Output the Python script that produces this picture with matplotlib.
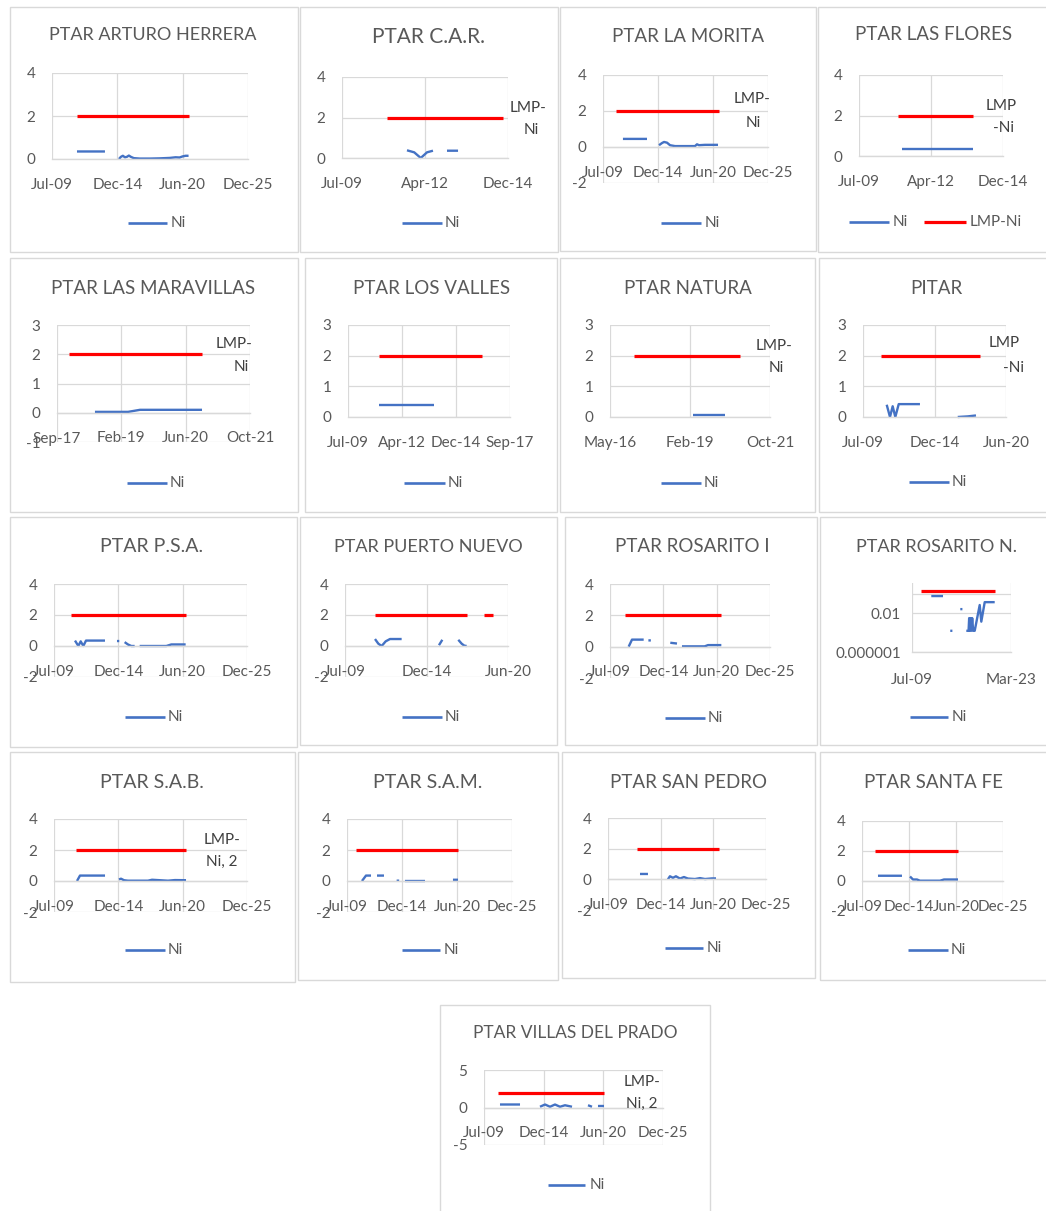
import numpy as np
import matplotlib
matplotlib.use("Agg")
import matplotlib.pyplot as plt
import matplotlib.dates as mdates
from matplotlib.lines import Line2D
from matplotlib.patches import Rectangle
from matplotlib.ticker import NullLocator

plt.rcParams["font.family"] = ["Lato", "DejaVu Sans"]

nan = np.nan
W, H = 1046, 1211
TXT = "#595959"
LBL = "#404040"
GRID = "#d9d9d9"
BLUE = "#4472C4"
RED = "#FF0000"

# ---------------- axis ticks (date axes) ----------------
ticks_6y = ["2009-07-06", "2014-12-27", "2020-06-18", "2025-12-09"]
ticks_car = ["2009-07-06", "2012-04-01", "2014-12-27"]
ticks_maravillas = ["2017-09-22", "2019-02-04", "2020-06-18", "2021-10-31"]
ticks_valles = ["2009-07-06", "2012-04-01", "2014-12-27", "2017-09-22"]
ticks_natura = ["2016-05-10", "2019-02-04", "2021-10-31"]
ticks_4y = ["2009-07-06", "2014-12-27", "2020-06-18"]
ticks_rosN = ["2009-07-06", "2023-03-15"]

# ---------------- Ni series and LMP-Ni limit per plant ----------------
arturo_dates = ["2011-08-10", "2013-12-13", "2014-07-01", "2015-02-15", "2015-04-15", "2015-06-15",
                "2015-08-15", "2015-10-15", "2015-12-15", "2016-02-15", "2016-05-15", "2016-11-15",
                "2017-09-15", "2018-07-15", "2019-05-15", "2019-11-15", "2020-03-15", "2020-06-15",
                "2020-09-15", "2020-12-15"]
arturo_ni = [0.35, 0.35, nan, 0.0, 0.10, 0.15, 0.08, 0.10, 0.16, 0.10, 0.04, 0.02,
             0.02, 0.03, 0.05, 0.08, 0.07, 0.12, 0.15, 0.15]
arturo_lmp_dates = ["2011-08-10", "2020-12-29"]
arturo_lmp = [2, 2]

car_dates = ["2011-08-28", "2011-11-23", "2012-02-10", "2012-04-25", "2012-07-06", "2012-10-01",
             "2012-12-22", "2013-05-04"]
car_ni = [0.38, 0.28, 0.0, 0.28, 0.36, nan, 0.36, 0.36]
car_lmp_dates = ["2010-12-30", "2014-10-28"]
car_lmp = [2, 2]

morita_dates = ["2011-07-01", "2013-11-22", "2014-06-01", "2015-02-02", "2015-05-22", "2015-08-03",
                "2015-11-20", "2016-03-08", "2016-09-06", "2018-09-02", "2018-11-14", "2019-01-25",
                "2019-09-01", "2020-12-17"]
morita_ni = [0.45, 0.45, nan, 0.10, 0.22, 0.28, 0.24, 0.10, 0.05, 0.05, 0.15, 0.10, 0.12, 0.12]
morita_lmp_dates = ["2010-10-22", "2021-01-22"]
morita_lmp = [2, 2]

flores_dates = ["2011-02-23", "2013-11-04"]
flores_ni = [0.35, 0.35]
flores_lmp_dates = ["2010-12-29", "2013-11-04"]
flores_lmp = [2, 2]

maravillas_dates = ["2018-07-14", "2019-03-28", "2019-06-29", "2020-10-23"]
maravillas_ni = [0.03, 0.03, 0.10, 0.10]
maravillas_lmp_dates = ["2017-12-24", "2020-10-23"]
maravillas_lmp = [2, 2]

valles_dates = ["2011-01-31", "2013-11-15"]
valles_ni = [0.4, 0.4]
valles_lmp_dates = ["2011-01-31", "2016-04-21"]
valles_lmp = [2, 2]

natura_dates = ["2019-03-13", "2020-04-16"]
natura_ni = [0.07, 0.07]
natura_lmp_dates = ["2017-03-06", "2020-10-21"]
natura_lmp = [2, 2]

pitar_dates = ["2011-04-30", "2011-07-31", "2011-10-14", "2011-12-27", "2012-03-31", "2013-11-15",
               "2015-01-01", "2016-10-07", "2017-07-13", "2018-03-01"]
pitar_ni = [0.40, 0.0, 0.35, 0.0, 0.42, 0.42, nan, 0.0, 0.02, 0.05]
pitar_lmp_dates = ["2010-11-21", "2018-06-22"]
pitar_lmp = [2, 2]

psa_dates = ["2011-04-20", "2011-08-02", "2011-10-14", "2012-01-04", "2012-03-27", "2013-11-07",
             "2014-06-01", "2014-11-15", "2015-01-25", "2015-04-01", "2015-07-11", "2015-10-22",
             "2016-02-03", "2016-05-17", "2016-08-01", "2016-10-20", "2019-01-27", "2019-07-02",
             "2020-09-19"]
psa_ni = [0.35, 0.0, 0.30, 0.0, 0.35, 0.35, nan, 0.32, 0.32, nan, 0.25, 0.10, 0.0, 0.0, nan,
          0.0, 0.0, 0.10, 0.10]
psa_lmp_dates = ["2010-12-16", "2020-09-30"]
psa_lmp = [2, 2]

pn_dates = ["2011-07-12", "2011-10-02", "2011-12-23", "2012-03-30", "2012-07-14", "2013-04-26",
            "2014-06-01", "2015-10-29", "2016-01-19", "2016-06-01", "2017-02-14", "2017-05-08",
            "2017-07-12", "2017-09-07"]
pn_ni = [0.45, 0.15, 0.0, 0.30, 0.45, 0.45, nan, 0.05, 0.40, nan, 0.40, 0.15, 0.02, 0.0]
pn_lmp_dates = ["2011-07-12", "2017-09-16", "2018-03-01", "2018-11-06", "2019-06-14"]
pn_lmp = [2, 2, nan, 2, 2]

ros1_dates = ["2011-06-06", "2011-10-09", "2012-12-20", "2013-04-01", "2013-06-15", "2013-09-15",
              "2014-06-01", "2015-09-14", "2016-05-22", "2016-08-01", "2016-11-25", "2019-03-26",
              "2019-07-29", "2020-12-10"]
ros1_ni = [0.0, 0.45, 0.45, nan, 0.40, 0.40, nan, 0.25, 0.20, nan, 0.02, 0.02, 0.10, 0.10]
ros1_lmp_dates = ["2011-01-18", "2020-11-24"]
ros1_lmp = [2, 2]

rosN_dates = ["2012-03-06", "2013-10-19", "2014-05-01", "2014-10-20", "2015-02-05", "2015-08-01",
              "2016-03-10", "2016-06-25", "2016-09-01", "2017-01-08", "2017-05-02", "2017-06-01",
              "2017-07-01", "2017-08-20", "2017-09-22", "2017-11-01", "2017-12-21", "2018-03-08",
              "2018-11-15", "2019-02-04", "2019-07-26", "2020-12-12"]
rosN_ni = [0.55, 0.55, nan, 1.5e-4, 1.5e-4, nan, 0.025, 0.025, nan, 1.5e-4, 1.5e-4, 3e-3,
           1.5e-4, 3e-3, 1.5e-4, 3e-3, 1.5e-4, 1.5e-4, 0.066, 1.3e-3, 0.13, 0.13]
rosN_lmp_dates = ["2010-09-18", "2020-12-12"]
rosN_lmp = [2, 2]

sab_dates = ["2011-06-21", "2011-09-22", "2013-11-08", "2014-06-01", "2015-01-17", "2015-03-20",
             "2015-06-21", "2015-10-22", "2017-07-06", "2017-11-08", "2018-07-15", "2019-03-20",
             "2019-10-23", "2020-09-30"]
sab_ni = [0.0, 0.35, 0.35, nan, 0.10, 0.15, 0.05, 0.02, 0.02, 0.08, 0.05, 0.02, 0.06, 0.05]
sab_lmp_dates = ["2011-05-21", "2020-09-30"]
sab_lmp = [2, 2]

sam_dates = ["2011-01-01", "2011-05-28", "2011-11-26", "2012-03-01", "2012-07-01", "2013-03-12",
             "2013-09-01", "2014-06-15", "2014-09-15", "2014-12-01", "2015-04-14", "2017-04-11",
             "2018-06-01", "2020-01-23", "2020-07-24"]
sam_ni = [0.0, 0.35, 0.35, nan, 0.35, 0.35, nan, 0.02, 0.02, nan, 0.0, 0.0, nan, 0.08, 0.08]
sam_lmp_dates = ["2010-05-28", "2020-07-24"]
sam_lmp = [2, 2]

sp_dates = ["2012-11-02", "2013-09-01", "2014-09-01", "2015-09-29", "2015-12-14", "2016-04-06",
            "2016-07-29", "2016-12-28", "2017-05-29", "2017-10-28", "2018-07-22", "2019-01-28",
            "2019-08-06", "2020-04-28", "2020-09-27"]
sp_ni = [0.35, 0.35, nan, 0.0, 0.20, 0.10, 0.20, 0.05, 0.15, 0.05, 0.02, 0.08, 0.02, 0.06, 0.06]
sp_lmp_dates = ["2012-07-11", "2021-01-19"]
sp_lmp = [2, 2]

sf_dates = ["2011-05-17", "2014-03-03", "2014-09-01", "2015-02-08", "2015-06-15", "2015-12-01",
            "2016-04-07", "2018-08-07", "2019-01-24", "2020-09-11"]
sf_ni = [0.35, 0.35, nan, 0.30, 0.10, 0.10, 0.02, 0.02, 0.10, 0.10]
sf_lmp_dates = ["2011-01-09", "2020-09-11"]
sf_lmp = [2, 2]

vp_dates = ["2010-12-24", "2012-10-25", "2013-09-01", "2014-08-26", "2015-02-11", "2015-07-28",
            "2016-01-11", "2016-06-27", "2016-12-11", "2017-08-03", "2018-06-01", "2019-01-21",
            "2019-06-04", "2019-09-01", "2019-12-22", "2020-07-10"]
vp_ni = [0.4, 0.4, nan, 0.1, 0.4, 0.1, 0.4, 0.1, 0.3, 0.1, nan, 0.3, 0.1, nan, 0.2, 0.2]
vp_lmp_dates = ["2010-10-18", "2020-07-10"]
vp_lmp = [2, 2]

# ---------------- layout (pixel coordinates) ----------------
PANELS = [
    dict(title="PTAR ARTURO HERRERA", box=(10, 7, 298, 252), tpos=(153, 35), tsize=13,
         rect=(52, 73, 248, 159), xt=ticks_6y, ylim=(0, 4), yt=[0, 2, 4],
         ni=(arturo_dates, arturo_ni), lmp=(arturo_lmp_dates, arturo_lmp),
         leg=(128, 167, 223, 171), lbl=None),
    dict(title="PTAR C.A.R.", box=(300, 7, 558, 252), tpos=(428, 37), tsize=15,
         rect=(342, 77, 508, 158), xt=ticks_car, ylim=(0, 4), yt=[0, 2, 4],
         ni=(car_dates, car_ni), lmp=(car_lmp_dates, car_lmp),
         leg=(402, 442, 223, 445), lbl=[("LMP-", 528, 108), ("Ni", 531, 130)]),
    dict(title="PTAR LA MORITA", box=(560, 7, 816, 251), tpos=(688, 37), tsize=13.5,
         rect=(603, 75, 768, 183), xt=ticks_6y, ylim=(-2, 4), yt=[-2, 0, 2, 4],
         ni=(morita_dates, morita_ni), lmp=(morita_lmp_dates, morita_lmp),
         leg=(661, 701, 223, 705), lbl=[("LMP-", 752, 99), ("Ni", 753, 123)]),
    dict(title="PTAR LAS FLORES", box=(818, 7, 1050, 252), tpos=(934, 35), tsize=13.5,
         rect=(859, 75, 1003, 156), xt=ticks_car, ylim=(0, 4), yt=[0, 2, 4],
         ni=(flores_dates, flores_ni), lmp=(flores_lmp_dates, flores_lmp),
         leg=(849, 889, 222, 893), leg2=(924, 966, 222, 970),
         lbl=[("LMP", 1001, 106), ("-Ni", 1004, 128)]),
    dict(title="PTAR LAS MARAVILLAS", box=(10, 258, 298, 512), tpos=(153, 288), tsize=13.5,
         rect=(57, 325, 250, 442), xt=ticks_maravillas, ylim=(-1, 3), yt=[-1, 0, 1, 2, 3],
         ni=(maravillas_dates, maravillas_ni), lmp=(maravillas_lmp_dates, maravillas_lmp),
         leg=(127, 167, 483, 170), lbl=[("LMP-", 234, 344), ("Ni", 241, 367)]),
    dict(title="PTAR LOS VALLES", box=(305, 258, 557, 512), tpos=(432, 288), tsize=13.5,
         rect=(348, 325, 510, 417), xt=ticks_valles, ylim=(0, 3), yt=[0, 1, 2, 3],
         ni=(valles_dates, valles_ni), lmp=(valles_lmp_dates, valles_lmp),
         leg=(404, 445, 483, 448), lbl=None),
    dict(title="PTAR NATURA", box=(560, 258, 815, 512), tpos=(688, 288), tsize=13.5,
         rect=(610, 325, 770, 417), xt=ticks_natura, ylim=(0, 3), yt=[0, 1, 2, 3],
         ni=(natura_dates, natura_ni), lmp=(natura_lmp_dates, natura_lmp),
         leg=(661, 701, 483, 704), lbl=[("LMP-", 774, 346), ("Ni", 776, 368)]),
    dict(title="PITAR", box=(819, 258, 1050, 512), tpos=(936, 288), tsize=13.5,
         rect=(863, 325, 1006, 417), xt=ticks_4y, ylim=(0, 3), yt=[0, 1, 2, 3],
         ni=(pitar_dates, pitar_ni), lmp=(pitar_lmp_dates, pitar_lmp),
         leg=(909, 949, 482, 952), lbl=[("LMP", 1004, 343), ("-Ni", 1014, 368)]),
    dict(title="PTAR P.S.A.", box=(10, 517, 297, 747), tpos=(152, 547), tsize=14,
         rect=(54, 584, 247, 677), xt=ticks_6y, ylim=(-2, 4), yt=[-2, 0, 2, 4],
         ni=(psa_dates, psa_ni), lmp=(psa_lmp_dates, psa_lmp),
         leg=(125, 165, 717, 168), lbl=None),
    dict(title="PTAR PUERTO NUEVO", box=(300, 517, 557, 745), tpos=(428, 547), tsize=13,
         rect=(345, 584, 508, 677), xt=ticks_4y, ylim=(-2, 4), yt=[-2, 0, 2, 4],
         ni=(pn_dates, pn_ni), lmp=(pn_lmp_dates, pn_lmp),
         leg=(402, 442, 717, 445), lbl=None),
    dict(title="PTAR ROSARITO I", box=(565, 517, 817, 745), tpos=(692, 547), tsize=13.5,
         rect=(610, 584, 770, 678), xt=ticks_6y, ylim=(-2, 4), yt=[-2, 0, 2, 4],
         ni=(ros1_dates, ros1_ni), lmp=(ros1_lmp_dates, ros1_lmp),
         leg=(665, 705, 718, 708), lbl=None),
    dict(title="PTAR ROSARITO N.", box=(820, 517, 1050, 745), tpos=(936, 547), tsize=13,
         rect=(912, 583, 1011, 652), xt=ticks_rosN, ylim=(1e-6, 12), yt=[1e-6, 1e-2, 1],
         ytl=["0.000001", "0.01", ""], log=True,
         ni=(rosN_dates, rosN_ni), lmp=(rosN_lmp_dates, rosN_lmp),
         leg=(910, 948, 717, 952), lbl=None),
    dict(title="PTAR S.A.B.", box=(10, 752, 295, 982), tpos=(152, 783), tsize=14,
         rect=(54, 819, 247, 912), xt=ticks_6y, ylim=(-2, 4), yt=[-2, 0, 2, 4],
         ni=(sab_dates, sab_ni), lmp=(sab_lmp_dates, sab_lmp),
         leg=(125, 165, 950, 168), lbl=[("LMP-", 222, 840), ("Ni, 2", 222, 862)]),
    dict(title="PTAR S.A.M.", box=(298, 752, 558, 980), tpos=(428, 783), tsize=14,
         rect=(347, 819, 512, 912), xt=ticks_6y, ylim=(-2, 4), yt=[-2, 0, 2, 4],
         ni=(sam_dates, sam_ni), lmp=(sam_lmp_dates, sam_lmp),
         leg=(402, 440, 950, 444), lbl=None),
    dict(title="PTAR SAN PEDRO", box=(562, 752, 815, 978), tpos=(688, 783), tsize=13.5,
         rect=(608, 818, 766, 910), xt=ticks_6y, ylim=(-2, 4), yt=[-2, 0, 2, 4],
         ni=(sp_dates, sp_ni), lmp=(sp_lmp_dates, sp_lmp),
         leg=(665, 703, 948, 707), lbl=None),
    dict(title="PTAR SANTA FE", box=(820, 752, 1050, 980), tpos=(934, 783), tsize=13.5,
         rect=(862, 821, 1003, 911), xt=ticks_6y, ylim=(-2, 4), yt=[-2, 0, 2, 4],
         ni=(sf_dates, sf_ni), lmp=(sf_lmp_dates, sf_lmp),
         leg=(908, 948, 950, 951), lbl=None),
    dict(title="PTAR VILLAS DEL PRADO", box=(440, 1005, 710, 1215), tpos=(575, 1033), tsize=12.5,
         rect=(484, 1070, 663, 1145), xt=ticks_6y, ylim=(-5, 5), yt=[-5, 0, 5],
         ni=(vp_dates, vp_ni), lmp=(vp_lmp_dates, vp_lmp),
         leg=(548, 585, 1185, 590), lbl=[("LMP-", 642, 1082), ("Ni, 2", 642, 1104)]),
]

fig = plt.figure(figsize=(W / 100, H / 100), dpi=100)
fig.patch.set_facecolor("white")


def fxy(x, y):
    return x / W, 1 - y / H


def draw_panel(p):
    x0, y0, x1, y1 = p["box"]
    fig.add_artist(Rectangle(fxy(x0, y1), (x1 - x0) / W, (y1 - y0) / H,
                             transform=fig.transFigure, fill=False, ec=GRID, lw=1.0))
    tx, ty = fxy(*p["tpos"])
    fig.text(tx, ty, p["title"], ha="center", va="center", fontsize=p["tsize"], color=TXT)

    l, t, r, b = p["rect"]
    ax = fig.add_axes([l / W, 1 - b / H, (r - l) / W, (b - t) / H])
    ax.patch.set_alpha(0)
    log = p.get("log", False)

    xt = mdates.datestr2num(p["xt"])
    ax.set_xlim(xt[0], xt[-1])
    ax.set_xticks(xt)
    ax.xaxis.set_major_formatter(mdates.DateFormatter("%b-%y"))
    if log:
        ax.set_yscale("log")
    ax.set_ylim(*p["ylim"])
    ax.set_yticks(p["yt"])
    if "ytl" in p:
        ax.set_yticklabels(p["ytl"])
    else:
        ax.set_yticklabels([f"{v:g}" for v in p["yt"]])
    ax.xaxis.set_minor_locator(NullLocator())
    ax.yaxis.set_minor_locator(NullLocator())

    for s in ("top", "right", "left"):
        ax.spines[s].set_visible(False)
    ax.spines["bottom"].set_position(("data", p["ylim"][0] if log else 0))
    ax.spines["bottom"].set_color(GRID)
    ax.spines["bottom"].set_linewidth(1.0)
    ax.grid(True, color=GRID, lw=0.9)
    ax.set_axisbelow(True)
    ax.tick_params(axis="both", length=0, labelsize=11, labelcolor=TXT)
    ax.tick_params(axis="x", pad=15 if log else 13.5)
    ax.tick_params(axis="y", pad=8 if log else 12)

    ld, lv = p["lmp"]
    ax.plot(mdates.datestr2num(ld), lv, color=RED, lw=2.3, solid_capstyle="butt", clip_on=False)
    nd, nv = p["ni"]
    ax.plot(mdates.datestr2num(nd), nv, color=BLUE, lw=1.7, solid_capstyle="butt",
            solid_joinstyle="round", clip_on=False)

    # legend entries
    lx0, lx1, ly, ltx = p["leg"]
    fig.add_artist(Line2D([lx0 / W, lx1 / W], [1 - ly / H] * 2, transform=fig.transFigure,
                          color=BLUE, lw=1.9, solid_capstyle="butt"))
    fig.text(*fxy(ltx, ly), "Ni", ha="left", va="center", fontsize=11, color=TXT)
    if "leg2" in p:
        lx0, lx1, ly, ltx = p["leg2"]
        fig.add_artist(Line2D([lx0 / W, lx1 / W], [1 - ly / H] * 2, transform=fig.transFigure,
                              color=RED, lw=2.3, solid_capstyle="butt"))
        fig.text(*fxy(ltx, ly), "LMP-Ni", ha="left", va="center", fontsize=11, color=TXT)

    # series-name label beside the limit line
    if p["lbl"]:
        for s, x, y in p["lbl"]:
            fig.text(*fxy(x, y), s, ha="center", va="center", fontsize=11, color=LBL)


for p in PANELS:
    draw_panel(p)

fig.savefig("out.png", dpi=100, facecolor="white")
